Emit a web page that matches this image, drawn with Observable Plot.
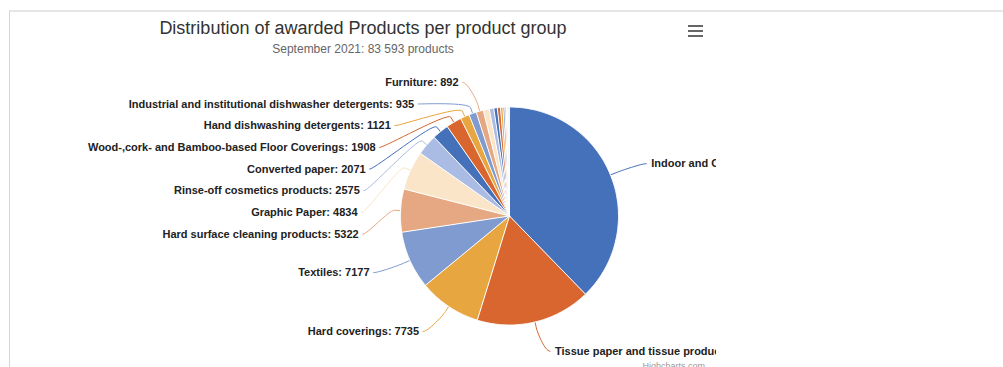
<!DOCTYPE html>
<html><head><meta charset="utf-8">
<script src="https://cdn.jsdelivr.net/npm/d3@7"></script>
<script src="https://cdn.jsdelivr.net/npm/@observablehq/plot@0.6"></script>
<style>
html,body{margin:0;padding:0;background:#fff}
body{width:1003px;height:367px;overflow:hidden;position:relative;font-family:"Liberation Sans",Arial,sans-serif}
#frame{position:absolute;left:9px;top:10px;right:0;bottom:-2px;border-top:2px solid #e6e6e6;border-left:1px solid #d6d6d6}
#chart{position:absolute;left:10px;top:12px;width:706px;height:355px;overflow:hidden}
#title{position:absolute;left:0;top:5px;width:706px;text-align:center;font-size:18px;line-height:22px;color:#333}
#subtitle{position:absolute;left:0;top:30px;width:706px;text-align:center;font-size:12px;line-height:15px;color:#666}
#menu{position:absolute;left:678px;top:13px;width:15px}
#menu div{height:2px;background:#666;margin-bottom:3px}
#credits{position:absolute;right:11px;top:349px;font-size:9px;color:#999}
#plot{position:absolute;left:0;top:50px}
</style></head>
<body>
<div id="frame"></div>
<div id="chart">
  <div id="title">Distribution of awarded Products per product group</div>
  <div id="subtitle">September 2021: 83 593 products</div>
  <div id="menu"><div></div><div></div><div></div></div>
  <div id="plot"></div>
  <div id="credits">Highcharts.com</div>
</div>
<script>
const categories = ["Indoor and Outdoor Paints and Varnishes", "Tissue paper and tissue products", "Hard coverings", "Textiles", "Hard surface cleaning products", "Graphic Paper", "Rinse-off cosmetics products", "Converted paper", "Wood-,cork- and Bamboo-based Floor Coverings", "Hand dishwashing detergents", "Industrial and institutional dishwasher detergents", "Furniture", "Laundry detergents", "Lubricants", "Tourist accommodation", "Dishwasher detergents", "Growing media and soil improvers", "Absorbent hygiene products", "Industrial and institutional laundry detergents", "Footwear", "Bed mattresses", "Electronic displays", "Imaging equipment", "Campsite services"];
const values = [31533, 14255, 7735, 7177, 5322, 4834, 2575, 2071, 1908, 1121, 935, 892, 745, 560, 430, 390, 300, 230, 170, 140, 110, 80, 50, 30];
const palette = ["#4570ba", "#d9652f", "#e7a63f", "#809bd0", "#e6a883", "#fbe5c8", "#aabce4"];
const labelMin = 892;

const W = 706, H = 305;
const cx = 499, cy = 153.5, r = 109, labelDist = 30, R = r + labelDist, rowH = 21.7;
const total = d3.sum(values);
const pt = (a, rad) => [cx + rad * Math.sin(a), cy - rad * Math.cos(a)];

let acc = 0;
const slices = categories.map((name, i) => {
  const a0 = acc / total * 2 * Math.PI; acc += values[i];
  const a1 = acc / total * 2 * Math.PI;
  return {name, value: values[i], a0, a1, mid: (a0 + a1) / 2, color: palette[i % palette.length]};
});

// slice polygons
const polys = [];
for (const s of slices) {
  polys.push({name: s.name, x: cx, y: cy});
  const n = Math.max(2, Math.ceil((s.a1 - s.a0) / 0.01));
  for (let k = 0; k <= n; k++) {
    const [x, y] = pt(s.a0 + (s.a1 - s.a0) * k / n, r);
    polys.push({name: s.name, x, y});
  }
}

// labels (Highcharts-like distribution)
const labeled = slices.filter(s => s.value >= labelMin);
const labels = [];
for (const side of ["left", "right"]) {
  const arr = labeled.filter(s => (s.mid > Math.PI) === (side === "left"))
    .map(s => ({s, y: cy - R * Math.cos(s.mid)}))
    .sort((a, b) => a.y - b.y);
  let prev = -Infinity;
  for (const l of arr) { l.y = Math.max(l.y, prev + rowH); prev = l.y; }
  for (const l of arr) {
    const dx = Math.sqrt(Math.max(0, R * R - (l.y - cy) ** 2));
    const circleX = side === "left" ? cx - dx : cx + dx;
    const tx = side === "left" ? circleX - 13 : circleX + 13;
    const lx = side === "left" ? tx + 4 : tx - 5;
    labels.push({name: l.s.name, text: `${l.s.name}: ${l.s.value}`, x: tx, y: l.y, lx, side, s: l.s});
  }
}

// connectors (fixedOffset soft connector)
const conns = [];
for (const l of labels) {
  const touch = pt(l.s.mid, r), brk = pt(l.s.mid, r + 6);
  const p0 = [l.lx, l.y], c1 = [l.lx + (l.side === "left" ? 5 : -5), l.y];
  const c2 = [2 * brk[0] - touch[0], 2 * brk[1] - touch[1]];
  for (let k = 0; k <= 16; k++) {
    const t = k / 16, u = 1 - t;
    const x = u*u*u*p0[0] + 3*u*u*t*c1[0] + 3*u*t*t*c2[0] + t*t*t*brk[0];
    const y = u*u*u*p0[1] + 3*u*u*t*c1[1] + 3*u*t*t*c2[1] + t*t*t*brk[1];
    conns.push({name: l.name, x, y});
  }
  conns.push({name: l.name, x: touch[0], y: touch[1]});
}

const chart = Plot.plot({
  width: W, height: H,
  marginTop: 0, marginRight: 0, marginBottom: 0, marginLeft: 0,
  x: {domain: [0, W], range: [0, W], axis: null},
  y: {domain: [0, H], range: [0, H], axis: null},
  color: {domain: slices.map(d => d.name), range: slices.map(d => d.color)},
  style: {background: "transparent", overflow: "visible"},
  marks: [
    Plot.line(conns, {x: "x", y: "y", z: "name", stroke: "name", strokeWidth: 1, fill: "none"}),
    Plot.line(polys, {x: "x", y: "y", z: "name", fill: "name", stroke: "#ffffff", strokeWidth: 1, strokeLinejoin: "round"}),
    Plot.text(labels.filter(d => d.side === "left"), {x: "x", y: "y", text: "text", textAnchor: "end", fontWeight: "bold", fontSize: 11, fill: "#222", fontFamily: "Liberation Sans, Arial, sans-serif"}),
    Plot.text(labels.filter(d => d.side === "right"), {x: "x", y: "y", text: "text", textAnchor: "start", fontWeight: "bold", fontSize: 11, fill: "#222", fontFamily: "Liberation Sans, Arial, sans-serif"})
  ]
});
document.getElementById("plot").appendChild(chart);
</script>
</body></html>
